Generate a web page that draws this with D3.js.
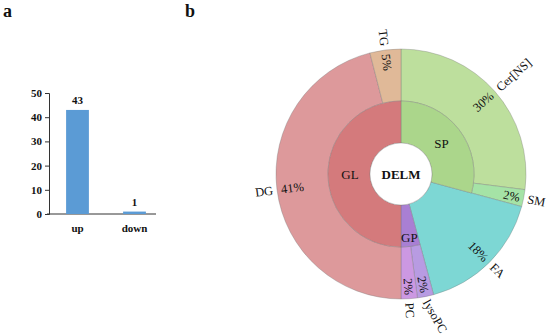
<!DOCTYPE html>
<html>
<head>
<meta charset="utf-8">
<script src="https://cdn.jsdelivr.net/npm/d3@7"></script>
<style>
  body { margin: 0; background: #fff; }
</style>
</head>
<body>
<div id="chart"></div>
<script>
// ---- panel a: bar chart ----
const barCats = ["up", "down"];
const barValues = [43, 1];
const barTicks = [0, 10, 20, 30, 40, 50];

// ---- panel b: sunburst (clockwise from 12 o'clock) ----
const groupNames = ["SP", "FA", "GP", "GL"];
const groupColors = ["#abd68b", "#7dd7d4", "#a97fd3", "#d47a7c"];
const groupShowLabel = [true, false, true, true];

const classNames = ["Cer[NS]", "SM", "FA", "lysoPC", "PC", "DG", "TG"];
const classGroup = ["SP", "SP", "FA", "GP", "GP", "GL", "GL"];
// slice sizes as drawn (angular share)
const classValues = [27, 2.2, 16.6, 2.1, 2.1, 46, 4];
// printed percentages
const classPct = ["30%", "2%", "18%", "2%", "2%", "41%", "5%"];
const classColors = ["#bddf9d", "#a5e3a6", "#7dd7d4", "#b89be2", "#cc98e2", "#dd999b", "#e0b998"];

const FONT = "'Liberation Serif', 'Times New Roman', Times, 'DejaVu Serif', serif";

const W = 550, H = 335;
const svg = d3.select("#chart").append("svg")
  .attr("width", W).attr("height", H)
  .attr("font-family", FONT);

// panel letters
svg.append("text").attr("x", 3).attr("y", 17)
  .style("font-size", "18px").style("font-weight", "bold").text("a");
svg.append("text").attr("x", 185).attr("y", 17)
  .style("font-size", "18px").style("font-weight", "bold").text("b");

// bar chart
const x = d3.scaleBand().domain(barCats).range([49, 163])
  .paddingInner(0.6).paddingOuter(0.3);
const y = d3.scaleLinear().domain([0, 50]).range([214, 93]);

const gy = svg.append("g").attr("transform", "translate(49,0)")
  .call(d3.axisLeft(y).tickValues(barTicks).tickSize(4).tickPadding(3));
gy.attr("font-family", null).attr("font-size", null);
gy.select(".domain").attr("stroke", "#333");
gy.selectAll(".tick line").attr("stroke", "#333");
gy.selectAll(".tick text")
  .style("font-size", "11px").style("font-weight", "bold");

svg.append("line")
  .attr("x1", 47).attr("x2", 156).attr("y1", y(0)).attr("y2", y(0))
  .attr("stroke", "#333");

svg.selectAll("rect.bar").data(barValues).enter().append("rect")
  .attr("class", "bar")
  .attr("x", (d, i) => x(barCats[i]))
  .attr("y", d => y(d))
  .attr("width", x.bandwidth())
  .attr("height", d => y(0) - y(d))
  .attr("fill", "#5b9bd5");

svg.selectAll("text.val").data(barValues).enter().append("text")
  .attr("class", "val")
  .attr("x", (d, i) => x(barCats[i]) + x.bandwidth() / 2)
  .attr("y", d => y(d) - 6)
  .attr("text-anchor", "middle")
  .style("font-size", "11px").style("font-weight", "bold")
  .text(d => d);

svg.selectAll("text.cat").data(barCats).enter().append("text")
  .attr("class", "cat")
  .attr("x", d => x(d) + x.bandwidth() / 2)
  .attr("y", 232)
  .attr("text-anchor", "middle")
  .style("font-size", "11px").style("font-weight", "bold")
  .text(d => d);

// sunburst
const cx = 401, cy = 174;
const rHole = 31, rMid = 73, rOuter = 125;
const g = svg.append("g").attr("transform", `translate(${cx},${cy})`);

const classData = classNames.map((n, i) => ({
  name: n, group: classGroup[i], value: classValues[i],
  pct: classPct[i], color: classColors[i]
}));
const groupData = groupNames.map((n, i) => ({
  name: n, color: groupColors[i], show: groupShowLabel[i],
  value: d3.sum(classData.filter(c => c.group === n), c => c.value)
}));

const pie = d3.pie().sort(null).value(d => d.value);
const outerArcs = pie(classData);
const innerArcs = pie(groupData);

const arcOuter = d3.arc().innerRadius(rMid).outerRadius(rOuter);
const arcInner = d3.arc().innerRadius(rHole).outerRadius(rMid);
const arcFull = d3.arc().innerRadius(rHole).outerRadius(rOuter);

g.selectAll("path.outer").data(outerArcs).enter().append("path")
  .attr("class", "outer")
  .attr("d", d => d.data.group === "FA" ? arcFull(d) : arcOuter(d))
  .attr("fill", d => d.data.color)
  .attr("stroke", "rgba(120,120,120,0.45)").attr("stroke-width", 0.8);

g.selectAll("path.inner").data(innerArcs.filter(d => d.data.name !== "FA"))
  .enter().append("path")
  .attr("class", "inner")
  .attr("d", arcInner)
  .attr("fill", d => d.data.color)
  .attr("stroke", "rgba(120,120,120,0.45)").attr("stroke-width", 0.8);

// inner group labels
g.selectAll("text.grp").data(innerArcs.filter(d => d.data.show)).enter()
  .append("text").attr("class", "grp")
  .attr("transform", d => {
    const a = (d.startAngle + d.endAngle) / 2;
    const r = (d.endAngle - d.startAngle) < 0.5 ? 64 : 51;
    return `translate(${r * Math.sin(a)},${-r * Math.cos(a)})`;
  })
  .attr("text-anchor", "middle").attr("dy", "0.35em")
  .style("font-size", "13px")
  .text(d => d.data.name);

// radial outer labels
const mid = d => (d.startAngle + d.endAngle) / 2;

function placeRadial(sel, radius, which) {
  sel.style("font-size", "12.5px")
    .attr("dy", "0.35em")
    .attr("text-anchor", d => {
      const right = mid(d) < Math.PI;
      if (which === "name") return right ? "start" : "end";
      return right ? "end" : "start";
    })
    .attr("transform", function (d) {
      const a = mid(d);
      const deg = a * 180 / Math.PI;
      let rot = a < Math.PI ? deg - 90 : deg - 270;
      const px = radius * Math.sin(a), py = -radius * Math.cos(a);
      // tip names that would run off the bottom edge toward horizontal
      if (which === "name") {
        const len = this.getComputedTextLength();
        const room = (H - 3) - (cy + py);
        const r = rot * Math.PI / 180;
        if (len * Math.sin(r) > room) rot = Math.asin(room / len) * 180 / Math.PI;
      }
      return `translate(${px},${py}) rotate(${rot})`;
    });
}

g.selectAll("text.pct").data(outerArcs).enter().append("text")
  .attr("class", "pct")
  .text(d => d.data.pct)
  .call(placeRadial, 121, "pct");

g.selectAll("text.name").data(outerArcs).enter().append("text")
  .attr("class", "name")
  .text(d => d.data.name)
  .call(placeRadial, 129, "name");

// centre
g.append("circle").attr("r", rHole).attr("fill", "#fff")
  .attr("stroke", "rgba(120,120,120,0.45)").attr("stroke-width", 0.8);
g.append("text").attr("text-anchor", "middle").attr("dy", "0.35em")
  .style("font-size", "13px").style("font-weight", "bold")
  .text("DELM");

svg.selectAll("text").attr("fill", "#111");
</script>
</body>
</html>
